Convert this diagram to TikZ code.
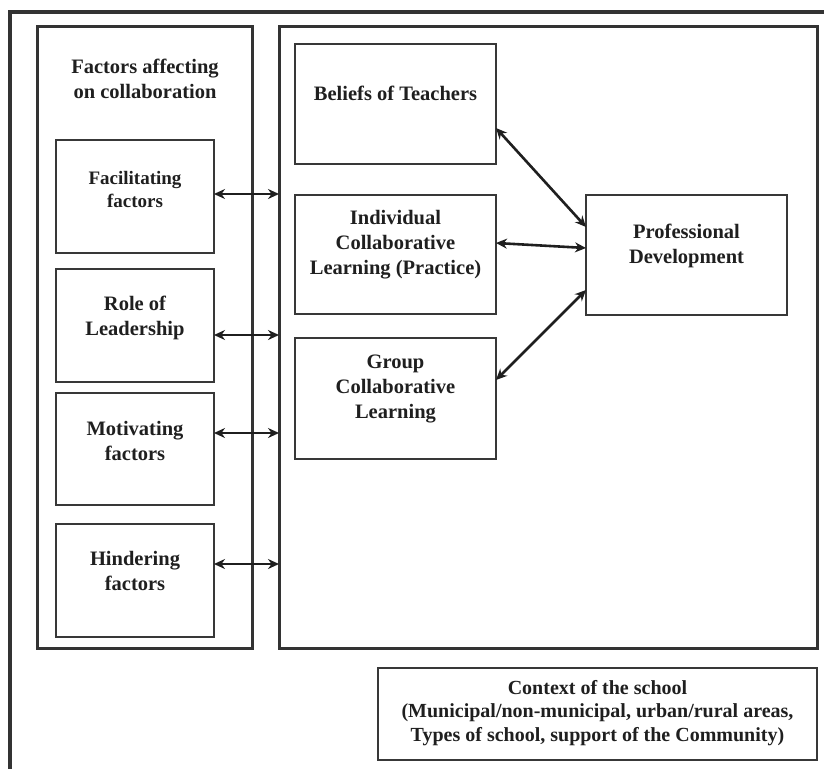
\documentclass[tikz,border=0pt]{standalone}
\usepackage{fontspec}
\setmainfont{Liberation Serif}
\usetikzlibrary{arrows.meta}
\begin{document}
\begin{tikzpicture}[x=1pt,y=-1pt,
  frame/.style={draw=black!80, line width=3.2pt, inner sep=0pt, outer sep=0pt},
  panel/.style={draw=black!80, line width=3pt, inner sep=0pt, outer sep=0pt},
  box/.style={draw=black!78, line width=2.7pt, inner sep=0pt, outer sep=0pt},
  txt/.style={align=center, inner sep=0pt, font=\bfseries\fontsize{20.5}{25}\selectfont, text=black!88},
  smalltxt/.style={txt, font=\bfseries\fontsize{19}{23}\selectfont},
  dbl/.style={line width=2.6pt, draw=black!88, {Stealth[length=11pt,width=10pt]}-{Stealth[length=11pt,width=10pt]}}
]
\useasboundingbox (0,0) rectangle (824,768);
\clip (0,0) rectangle (824,768);
\fill[white] (0,0) rectangle (824,768);
\node[frame, minimum width=840, minimum height=800, anchor=north west] (outer) at (10,12) {};
% panels
\node[panel, minimum width=215, minimum height=621] (left) at (144.5,337.5) {};
\node[panel, minimum width=538, minimum height=621] (right) at (548,337.5) {};
\node[txt] (title) at (145,79) {Factors affecting\\on collaboration};
% left boxes
\node[box, minimum width=158, minimum height=113] (fac) at (135,196.5) {};
\node[smalltxt] (facT) at (135,189) {Facilitating\\factors};
\node[box, minimum width=158, minimum height=113] (role) at (135,325.5) {};
\node[txt] (roleT) at (135,318) {Role of\\Leadership};
\node[box, minimum width=158, minimum height=112] (mot) at (135,449) {};
\node[txt] (motT) at (135,441) {Motivating\\factors};
\node[box, minimum width=158, minimum height=113] (hin) at (135,580.5) {};
\node[txt] (hinT) at (135,571) {Hindering\\factors};
% right boxes
\node[box, minimum width=201, minimum height=120] (bel) at (395.5,104) {};
\node[txt] (belT) at (395.5,93) {Beliefs of Teachers};
\node[box, minimum width=201, minimum height=119] (ind) at (395.5,254.5) {};
\node[txt] (indT) at (395.5,245) {Individual\\Collaborative\\Learning (Practice)};
\node[box, minimum width=201, minimum height=121] (grp) at (395.5,398.5) {};
\node[txt] (grpT) at (395.5,389) {Group\\Collaborative\\Learning};
\node[box, minimum width=201, minimum height=120] (pd) at (686.5,255) {};
\node[txt] (pdT) at (686.5,246) {Professional\\Development};
% context
\node[box, minimum width=439, minimum height=92] (ctx) at (597.5,714) {};
\node[txt, font=\bfseries\fontsize{20}{23.5}\selectfont] (ctxT) at (597.5,713) {Context of the school\\(Municipal/non-municipal, urban/rural areas,\\Types of school, support of the Community)};
% arrows left
\draw[dbl] (fac.east |- 0,194) -- (right.west |- 0,194);
\draw[dbl] (role.east |- 0,335) -- (right.west |- 0,335);
\draw[dbl] (mot.east |- 0,433) -- (right.west |- 0,433);
\draw[dbl] (hin.east |- 0,564) -- (right.west |- 0,564);
% arrows right
\draw[dbl] (bel.east |- 0,128) -- (pd.west |- 0,227);
\draw[dbl] (ind.east |- 0,243) -- (pd.west |- 0,248);
\draw[dbl] (grp.east |- 0,380) -- (pd.west |- 0,290);
\end{tikzpicture}
\end{document}
